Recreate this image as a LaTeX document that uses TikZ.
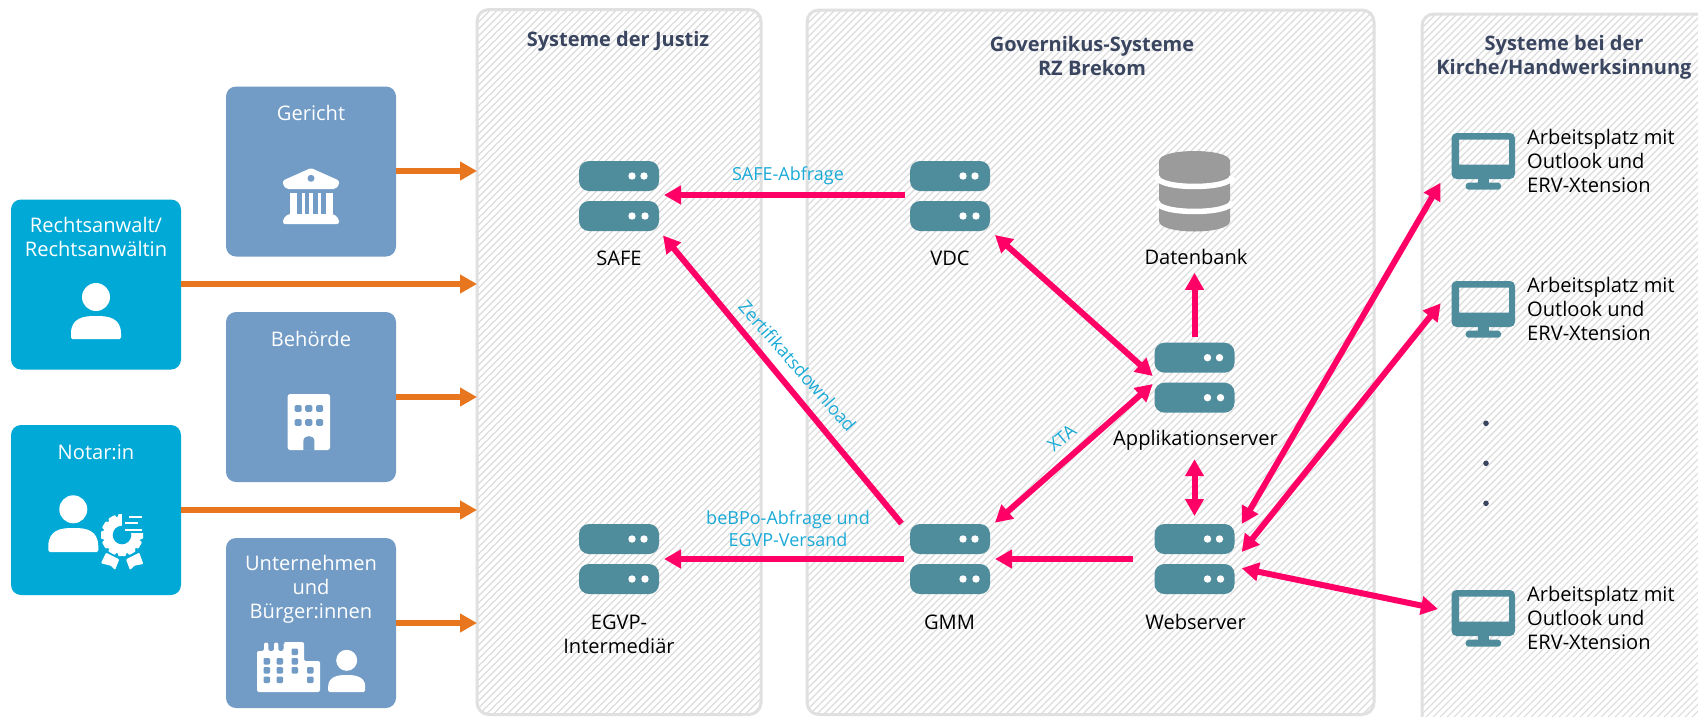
\documentclass[tikz,border=0pt]{standalone}
\usepackage{fontspec}
\setmainfont{Open Sans}
\usetikzlibrary{arrows.meta,calc}
\definecolor{pinkc}{HTML}{FF0066}
\definecolor{orangec}{HTML}{E8761E}
\definecolor{bluebox}{HTML}{729CC6}
\definecolor{cyanbox}{HTML}{00A9D6}
\definecolor{cyantext}{HTML}{1AAAD8}
\definecolor{teal}{HTML}{508D9C}
\definecolor{dbgray}{HTML}{9B9B9B}
\definecolor{titlec}{HTML}{3A4560}
\definecolor{panelb}{HTML}{E0E0E0}
\definecolor{hatchc}{HTML}{DCDCDC}
\tikzset{
  pinkone/.style={draw=pinkc,line width=6pt,-{Triangle[length=17pt,width=18pt]}},
  pinktwo/.style={draw=pinkc,line width=6pt,{Triangle[length=17pt,width=18pt]}-{Triangle[length=17pt,width=18pt]}},
  orangearrow/.style={draw=orangec,line width=6pt,-{Triangle[length=17pt,width=18pt]}},
  actor/.style={rectangle,rounded corners=10pt,minimum width=170pt,minimum height=170pt,inner sep=0pt,outer sep=0pt},
  bluea/.style={actor,fill=bluebox},
  cyana/.style={actor,fill=cyanbox},
  boxtext/.style={text=white,align=center,font=\fontsize{20.1}{24}\selectfont,inner sep=0pt},
  lab/.style={text=black,align=center,font=\fontsize{20.1}{24}\selectfont,inner sep=0pt},
  lableft/.style={text=black,align=left,font=\fontsize{20.1}{24}\selectfont,inner sep=0pt,anchor=north west},
  flow/.style={text=cyantext,align=center,font=\fontsize{18}{21.5}\selectfont,inner sep=0pt},
  paneltitle/.style={text=titlec,align=center,font=\fontsize{20}{24}\selectfont\bfseries,inner sep=0pt},
  srv/.style={rectangle,minimum width=80pt,minimum height=70pt,inner sep=0pt,outer sep=0pt},
  panelnode/.style={rectangle,inner sep=0pt,outer sep=0pt}
}
% server symbol: name, centre x, centre y
\newcommand{\serversym}[3]{%
  \node[srv] (#1) at (#2,#3) {};
  \begin{scope}[shift={(#2,#3)}]
    \fill[teal,rounded corners=10pt] (-40,-35) rectangle (40,-5);
    \fill[teal,rounded corners=10pt] (-40,5) rectangle (40,35);
    \fill[white] (13,-20) circle (3.7pt) (25,-20) circle (3.7pt);
    \fill[white] (13,20) circle (3.7pt) (26,20) circle (3.7pt);
  \end{scope}}
% monitor symbol: name, left x, top y
\newcommand{\monitorsym}[3]{%
  \node[srv,minimum width=64pt,minimum height=56pt] (#1) at ($(#2,#3)+(32,28)$) {};
  \begin{scope}[shift={(#2,#3)}]
    \fill[teal,even odd rule] [rounded corners=5pt] (0,0) rectangle (63.5,46) [sharp corners] (7.5,6.7) rectangle (57.5,31.7);
    \fill[teal] (26.5,44) rectangle (37.5,52);
    \fill[teal,rounded corners=3pt] (14.2,49.7) rectangle (49.5,56.7);
  \end{scope}}
% person symbol: centre x, head y, head r, half width, body top, body bottom
\newcommand{\personsym}[6]{%
  \fill[white] (#1,#2) circle (#3pt);
  \fill[white,rounded corners=1.5pt] ({#1-#4},#6) -- ({#1-#4},{#6-4}) .. controls ({#1-#4},{#5+2}) and ({#1-#4*0.5},#5) .. (#1,#5)
     .. controls ({#1+#4*0.5},#5) and ({#1+#4},{#5+2}) .. ({#1+#4},{#6-4}) -- ({#1+#4},#6) -- cycle;}
% hatched panel interior
\newcommand{\hatchpanel}[4]{%
  \begin{scope}
    \clip[rounded corners=12pt] (#1,#2) rectangle (#3,#4);
    \pgfmathsetmacro{\hatchstart}{#1-(#4-#2)}
    \foreach \hx in {0,7,...,1400} {
      \draw[hatchc,line width=1.1pt] ({\hatchstart+\hx},#4) -- ({\hatchstart+\hx+(#4-#2)},#2);
    }
  \end{scope}
  \draw[panelb,line width=3pt,rounded corners=12pt] (#1,#2) rectangle (#3,#4);}
\begin{document}
\begin{tikzpicture}[x=1pt,y=-1pt]
\useasboundingbox (0,0) rectangle (1698,716);
\clip (0,0) rectangle (1698,716);
\fill[white] (0,0) rectangle (1698,716);

% panels
\hatchpanel{477}{9.5}{761}{714.5}
\hatchpanel{807}{10}{1374}{714.5}
\hatchpanel{1422}{14}{1790}{790}
\node[panelnode,minimum width=284pt,minimum height=705pt] (justiz) at (619,362) {};
\node[panelnode,minimum width=368pt,minimum height=776pt] (kirche) at (1606,402) {};

\node[paneltitle] (t1) at (618,41) {Systeme der Justiz};
\node[paneltitle] (t2) at (1092,56) {Governikus-Systeme\\RZ Brekom};
\node[paneltitle] (t3) at (1564,57.5) {Systeme bei der\\Kirche/Handwerksinnung};

% actors
\node[bluea] (gericht) at (311,171.5) {};
\node[cyana] (anwalt) at (96,284.5) {};
\node[bluea] (behoerde) at (311,397) {};
\node[cyana] (notar) at (96,510) {};
\node[bluea] (unternehmen) at (311,623) {};
\node[boxtext] (tg) at (311,113) {Gericht};
\node[boxtext] (ta) at (96,237) {Rechtsanwalt/\\Rechtsanwältin};
\node[boxtext] (tb) at (311,339) {Behörde};
\node[boxtext] (tn) at (96,452) {Notar:in};
\node[boxtext] (tu) at (311,589) {Unternehmen\\und\\Bürger:innen};

% court icon
\fill[white,rounded corners=1.5pt] (283,180.5) -- (311,168) -- (339,180.5) -- (339,185) -- (335,189) -- (287,189) -- (283,185) -- cycle;
\fill[bluebox] (311,178.3) circle (3.5pt);
\foreach \a/\b in {290/297,301.5/305,309/313,317.5/321,325.5/332.5} \fill[white] (\a,192.5) rectangle (\b,214);
\fill[white,rounded corners=2pt] (283,224) -- (283,219) -- (288,214) -- (334,214) -- (339,219) -- (339,224) -- cycle;

% person icons
\personsym{96}{297}{14}{25}{316}{339}
\personsym{73.3}{509.3}{14}{25}{528}{552}
\personsym{346.7}{660.3}{10.5}{18.5}{675}{692}

% certificate gear
\begin{scope}[shift={(122,535)}]
  \fill[white] (0,0) circle (19pt);
  \foreach \r in {0,30,...,330} \fill[white,rotate=\r,rounded corners=1pt] (-4,-21) rectangle (4,-15);
  \fill[cyanbox] (0,-24) rectangle (24,-2);
  \fill[cyanbox] (0,0) circle (9.3pt);
\end{scope}
\fill[white,rounded corners=1pt] (106,552.7) -- (119.3,559.3) -- (115,570) -- (111,565.7) -- (101,563.3) -- cycle;
\fill[white,rounded corners=1pt] (126,559.3) -- (139.3,552.7) -- (143.3,564) -- (134.3,565.7) -- (130,570) -- cycle;
\fill[white] (128.5,515.8) rectangle (142,518.3);
\fill[white] (125,521.8) rectangle (138.3,524.3);
\fill[white] (125,528.8) rectangle (142.3,531.3);

% office building icon
\fill[white,rounded corners=2.5pt] (287.7,394) rectangle (330,450);
\foreach \wx in {294.5,305.2,316} \foreach \wy in {405,419} \fill[bluebox,rounded corners=1.5pt] (\wx,\wy) rectangle ({\wx+7.2},{\wy+6.8});
\fill[bluebox] (303.4,450.5) -- (303.4,441) .. controls (303.4,434.5) and (314.4,434.5) .. (314.4,441) -- (314.4,450.5) -- cycle;

% factory icon
\fill[white,rounded corners=2pt] (257,692) -- (257,651) -- (264,651) -- (264,642.5) -- (268.3,642.5) -- (268.3,651) -- (274,651) -- (274,642.5) -- (278.3,642.5) -- (278.3,651) -- (283.5,651) -- (283.5,642.5) -- (286,642) -- (304,642) -- (304,661) -- (320,661) -- (320,692) -- cycle;
\foreach \wx/\wy in {263.5/658,276.5/658,263.5/667,276.5/667,263.5/676.5,276.5/676.5,291.5/648.5,291.5/658,291.5/667,307/667,307/676.5}
  \fill[bluebox,rounded corners=1.2pt] (\wx,\wy) rectangle ({\wx+6.5},{\wy+6.5});

% servers
\serversym{safe}{619}{196}
\serversym{vdc}{950}{196}
\serversym{egvp}{619}{559}
\serversym{gmm}{950}{559}
\serversym{app}{1194.5}{377.7}
\serversym{web}{1194.5}{559}
\node[lab] (lsafe) at (619,258) {SAFE};
\node[lab] (lvdc) at (950,258) {VDC};
\node[lab] (legvp) at (619,634) {EGVP-\\Intermediär};
\node[lab] (lgmm) at (949.5,622) {GMM};
\node[lab] (lapp) at (1195.5,440) {Applikationserver};
\node[lab] (lweb) at (1195.5,622) {Webserver};

% database
\node[srv,minimum width=71pt,minimum height=81pt] (db) at (1194.5,191.3) {};
\fill[dbgray] (1159,161) .. controls (1159,147.7) and (1230,147.7) .. (1230,161) -- (1230,221)
   .. controls (1230,235) and (1159,235) .. (1159,221) -- cycle;
\draw[white,line width=5.5pt] (1157,176.5) .. controls (1157,189.8) and (1232,189.8) .. (1232,176.5);
\draw[white,line width=5.5pt] (1157,201.5) .. controls (1157,214.8) and (1232,214.8) .. (1232,201.5);
\node[lab] (ldb) at (1196,257) {Datenbank};

% monitors
\monitorsym{m1}{1451.5}{133}
\monitorsym{m2}{1451.5}{281}
\monitorsym{m3}{1451.5}{590}
\node[lableft] (a1) at (1527,129.3) {Arbeitsplatz mit\\Outlook und\\ERV-Xtension};
\node[lableft] (a2) at (1527,277.3) {Arbeitsplatz mit\\Outlook und\\ERV-Xtension};
\node[lableft] (a3) at (1527,586.3) {Arbeitsplatz mit\\Outlook und\\ERV-Xtension};
\fill[titlec] (1486,423.3) circle (2.8pt) (1486,463.3) circle (2.8pt) (1486,503.3) circle (2.8pt);

% orange arrows
\draw[orangearrow] (gericht.east |- 0,171) -- (justiz.west |- 0,171);
\draw[orangearrow] (anwalt.east |- 0,284) -- (justiz.west |- 0,284);
\draw[orangearrow] (behoerde.east |- 0,397) -- (justiz.west |- 0,397);
\draw[orangearrow] (notar.east |- 0,510) -- (justiz.west |- 0,510);
\draw[orangearrow] (unternehmen.east |- 0,623) -- (justiz.west |- 0,623);

% pink connectors
\draw[pinkone] ($(vdc.west)+(-5,-1)$) -- ($(safe.east)+(5,-1)$);
\draw[pinkone] ($(gmm.west)+(-6,0)$) -- ($(egvp.east)+(5,0)$);
\draw[pinkone] ($(web.west)+(-22,0)$) -- ($(gmm.east)+(5,0)$);
\draw[pinkone] ($(gmm.north west)+(-8.5,-0.5)$) -- ($(safe.south east)+(4,4.5)$);
\draw[pinktwo] ($(vdc.south east)+(5,4)$) -- ($(app.west)+(-1.8,-1.7)$);
\draw[pinkone] ($(app.north)+(0,-5.5)$) -- ($(db.south)+(0,41)$);
\draw[pinktwo] ($(app.west)+(-1.8,6.3)$) -- ($(gmm.north east)+(5,-1.3)$);
\draw[pinktwo] ($(app.south)+(0,46.5)$) -- ($(web.north)+(0,-8)$);
\draw[pinktwo] ($(web.north east)+(7.2,0)$) -- ($(m1.south west)+(-11,-6.3)$);
\draw[pinktwo] ($(web.east)+(7.2,-7)$) -- ($(m2.south west)+(-10.8,-33.7)$);
\draw[pinktwo] ($(web.east)+(7.2,9.3)$) -- ($(m3.north west)+(-13.5,19)$);

% flow labels
\node[flow] (f1) at (788,176) {SAFE-Abfrage};
\node[flow] (f2) at (788,528.5) {beBPo-Abfrage und\\EGVP-Versand};
\node[flow,rotate=-48.7] (f3) at (797.5,366) {Zertifikatsdownload};
\node[flow,rotate=40] (f4) at (1061.7,438) {XTA};
\end{tikzpicture}
\end{document}
